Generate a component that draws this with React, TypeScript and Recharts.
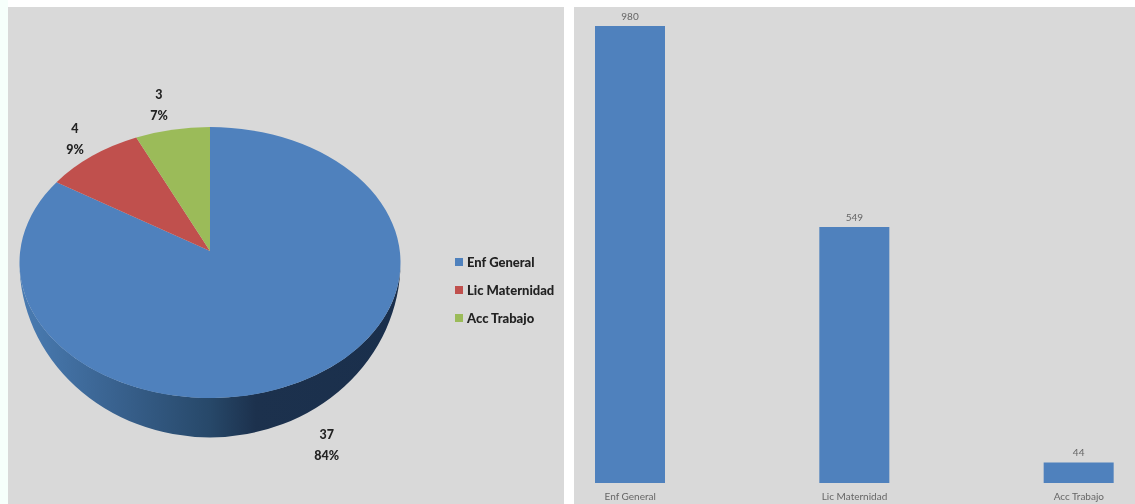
import React from "react";
import { PieChart, Pie, BarChart, Bar, XAxis, YAxis, LabelList, Legend } from "recharts";

const categories = ["Enf General", "Lic Maternidad", "Acc Trabajo"];
const pieValues = [37, 4, 3];
const piePercents = ["84%", "9%", "7%"];
const barValues = [980, 549, 44];
const pieColors = ["#4f81bd", "#c0504d", "#9bbb59"];

const pieData = categories.map((name, i) => ({ name, value: pieValues[i], percentText: piePercents[i], fill: pieColors[i] }));
const barData = categories.map((name, i) => ({ name, value: barValues[i] }));

const FONT = "Lato, 'Open Sans', sans-serif";
const SQUASH = 0.711;
const APEX_DROP = 11.5;
const WALL_BULGE = 39.5;
const LABEL_SHIFT = [[0, 43], [6, 4], [-6, 2]];

const rad = (d: number) => (d * Math.PI) / 180;
// Angle measured clockwise from the top of the pie, bent slightly as the tilted view does.
const rimPoint = (cx: number, cy: number, r: number, angle: number) => {
  const a = 90 - angle;
  const p = a - 4.3 * Math.sin(rad(a));
  return [cx + r * Math.sin(rad(p)), cy + APEX_DROP - r * SQUASH * Math.cos(rad(p))];
};

function Slice(props: any) {
  const { cx, cy, outerRadius: r, startAngle, endAngle, fill } = props;
  const [x1, y1] = rimPoint(cx, cy, r, startAngle);
  const [x2, y2] = rimPoint(cx, cy, r, endAngle);
  const ry = r * SQUASH;
  const large = Math.abs(endAngle - startAngle) > 180 ? 1 : 0;
  const top = `M${cx},${cy}L${x1},${y1}A${r},${ry} 0 ${large} 1 ${x2},${y2}Z`;
  const rimY = cy + APEX_DROP;
  const wall = `M${cx - r},${rimY}A${r},${ry} 0 0 0 ${cx + r},${rimY}A${r},${ry + WALL_BULGE} 0 0 1 ${cx - r},${rimY}Z`;
  return (
    <g>
      {fill === pieColors[0] && (
        <>
          <defs>
            <linearGradient id="wallShade" x1="0" x2="1" y1="0" y2="0">
              <stop offset="0" stopColor="#4a7cb3" />
              <stop offset="0.25" stopColor="#39628f" />
              <stop offset="0.5" stopColor="#274869" />
              <stop offset="0.62" stopColor="#1c314d" />
              <stop offset="1" stopColor="#1a2f4c" />
            </linearGradient>
          </defs>
          <path d={wall} fill="url(#wallShade)" />
        </>
      )}
      <path d={top} fill={fill} />
    </g>
  );
}

function SliceLabel(props: any) {
  const { cx, cy, outerRadius: r, midAngle, value, payload, index } = props;
  const [px, py] = rimPoint(cx, cy, r * 1.2, midAngle);
  const [dx, dy] = LABEL_SHIFT[index] ?? [0, 0];
  const x = px + dx;
  const y = py + dy;
  const text = payload?.percentText ?? piePercents[index];
  return (
    <text x={x} textAnchor="middle" fontFamily={FONT} fontWeight={900} fontSize={12.5} fill="#222">
      <tspan x={x} y={y - 6}>{value}</tspan>
      <tspan x={x} y={y + 15}>{text}</tspan>
    </text>
  );
}

function LegendBox({ payload }: any) {
  return (
    <div style={{ fontFamily: FONT, fontWeight: 900, fontSize: 13, color: "#222" }}>
      {(payload ?? []).map((entry: any) => (
        <div key={entry.value} style={{ display: "flex", alignItems: "center", height: 28, whiteSpace: "nowrap" }}>
          <span style={{ width: 8, height: 8, background: entry.color, marginRight: 4 }} />
          {entry.value}
        </div>
      ))}
    </div>
  );
}

export default function App() {
  return (
    <div style={{ position: "absolute", left: 0, top: 0, width: 1135, height: 504, background: "#fff", overflow: "hidden", filter: "blur(0.7px)" }}>
      <div style={{ position: "absolute", left: 0, top: 0, width: 8, height: 504, background: "#f6fffb" }} />
      <div style={{ position: "absolute", left: 8, top: 7, width: 556, height: 497, background: "#d9d9d9" }}>
        <PieChart width={556} height={497} margin={{ top: 0, right: 0, bottom: 0, left: 0 }}>
          <Pie
            data={pieData}
            dataKey="value"
            nameKey="name"
            cx={202}
            cy={244}
            outerRadius={190.5}
            startAngle={90}
            endAngle={-270}
            stroke="none"
            isAnimationActive={false}
            shape={Slice}
            label={SliceLabel}
            labelLine={false}
          />
          <Legend layout="vertical" itemSorter={null} content={LegendBox} wrapperStyle={{ left: 447, top: 241, width: 110, bottom: "auto" }} />
        </PieChart>
      </div>
      <div style={{ position: "absolute", left: 574, top: 7, width: 561, height: 497, background: "#d9d9d9", overflow: "hidden" }}>
        <div style={{ position: "absolute", left: -56, top: 0 }}>
          <BarChart width={673} height={497} data={barData} margin={{ top: 19, right: 0, bottom: 0, left: 0 }}>
            <XAxis
              dataKey="name"
              axisLine={false}
              tickLine={false}
              height={21}
              interval={0}
              tickMargin={4}
              tick={{ fontFamily: FONT, fontSize: 10, fill: "#666" }}
            />
            <YAxis hide domain={[0, 980]} />
            <Bar dataKey="value" fill="#4f81bd" barSize={70} isAnimationActive={false}>
              <LabelList dataKey="value" position="top" offset={6} style={{ fontFamily: FONT, fontSize: 10, fill: "#666" }} />
            </Bar>
          </BarChart>
        </div>
      </div>
    </div>
  );
}
